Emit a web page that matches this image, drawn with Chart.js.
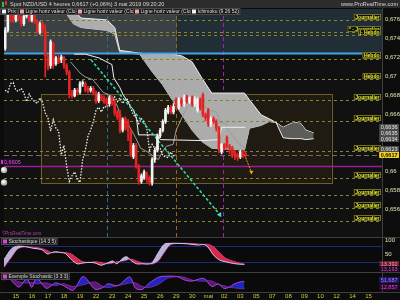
<!DOCTYPE html>
<html>
<head>
<meta charset="utf-8">
<script src="https://cdn.jsdelivr.net/npm/chart.js@4.4.1/dist/chart.umd.min.js"></script>
<style>
  html, body { margin: 0; padding: 0; background: #0c0c0c; }
  #c { display: block; width: 400px; height: 300px; }
</style>
</head>
<body>
<canvas id="c" width="400" height="300"></canvas>
<script>
// axe des dates (un pas = un jour)
const dayLabels = ["15","16","17","18","19","22","23","24","25","26","29","30","mai","02","03","05","07","08","09","10","12","14","15"];
const priceTicks = [0.676, 0.674, 0.672, 0.67, 0.668, 0.666, 0.66, 0.658, 0.656];

// bougies 4 heures NZD/USD
const opens = [
  0.6729,0.6748,0.6765,0.6763,0.6759,0.6765,0.6761,0.6755,0.6763,0.6766,
  0.6759,0.6764,0.6757,0.6746,0.6755,0.6748,0.6721,0.6711,0.6734,0.6713,
  0.6719,0.6717,0.6719,0.6711,0.6704,0.6682,0.6679,0.6685,0.6683,0.6692,
  0.6692,0.6687,0.6685,0.6687,0.6682,0.6674,0.6679,0.6677,0.6675,0.6671,
  0.6677,0.6673,0.6662,0.6660,0.6643,0.6655,0.6652,0.6642,0.6615,0.6627,
  0.6605,0.6589,0.6593,0.6597,0.6593,0.6588,0.6612,0.6622,0.6637,0.6643,
  0.6652,0.6662,0.6667,0.6662,0.6675,0.6667,0.6675,0.6671,0.6678,0.6673,
  0.6677,0.6671,0.6664,0.6675,0.6680,0.6659,0.6664,0.6650,0.6655,0.6652,
  0.6645,0.6620,0.6628,0.6635,0.6626,0.6624,0.6620,0.6617,0.6615,0.6620,
  0.6618];
const highs = [
  0.6751,0.6768,0.6768,0.6765,0.6767,0.6767,0.6763,0.6765,0.6769,0.6768,
  0.6766,0.6766,0.6759,0.6757,0.6757,0.6754,0.6723,0.6738,0.6736,0.6721,
  0.6722,0.6722,0.6721,0.6713,0.6706,0.6685,0.6687,0.6687,0.6694,0.6695,
  0.6694,0.6689,0.6689,0.6689,0.6684,0.6683,0.6681,0.6679,0.6677,0.6679,
  0.6679,0.6675,0.6664,0.6664,0.6656,0.6657,0.6654,0.6644,0.6629,0.6629,
  0.6607,0.6597,0.6601,0.6599,0.6595,0.6614,0.6624,0.6639,0.6645,0.6654,
  0.6666,0.6669,0.6669,0.6671,0.6677,0.6677,0.6677,0.6680,0.6680,0.6678,
  0.6679,0.6678,0.6677,0.6677,0.6682,0.6661,0.6666,0.6657,0.6657,0.6654,
  0.6647,0.6629,0.6629,0.6637,0.6628,0.6626,0.6622,0.6619,0.6622,0.6622,
  0.6620];
const lows = [
  0.6727,0.6746,0.6757,0.6756,0.6757,0.6759,0.6752,0.6753,0.6761,0.6757,
  0.6757,0.6755,0.6744,0.6744,0.6745,0.6699,0.6706,0.6708,0.6708,0.6711,
  0.6713,0.6714,0.6708,0.6701,0.6677,0.6677,0.6678,0.6680,0.6681,0.6689,
  0.6683,0.6682,0.6683,0.6680,0.6671,0.6672,0.6674,0.6671,0.6668,0.6668,
  0.6669,0.6658,0.6654,0.6640,0.6641,0.6643,0.6632,0.6615,0.6613,0.6603,
  0.6586,0.6587,0.6591,0.6588,0.6585,0.6585,0.6609,0.6620,0.6635,0.6641,
  0.6650,0.6660,0.6660,0.6660,0.6665,0.6665,0.6668,0.6668,0.6671,0.6671,
  0.6668,0.6668,0.6662,0.6664,0.6657,0.6653,0.6647,0.6647,0.6650,0.6642,
  0.6619,0.6618,0.6622,0.6624,0.6618,0.6614,0.6612,0.6611,0.6613,0.6614,
  0.6614];
const closes = [
  0.6748,0.6765,0.6761,0.6759,0.6765,0.6761,0.6755,0.6763,0.6766,0.6759,
  0.6764,0.6757,0.6746,0.6755,0.6748,0.6721,0.6709,0.6736,0.6711,0.6719,
  0.6715,0.6720,0.6711,0.6704,0.6680,0.6679,0.6685,0.6683,0.6692,0.6693,
  0.6685,0.6684,0.6687,0.6682,0.6673,0.6681,0.6676,0.6673,0.6671,0.6677,
  0.6672,0.6661,0.6656,0.6642,0.6654,0.6645,0.6642,0.6617,0.6627,0.6605,
  0.6589,0.6595,0.6599,0.6591,0.6588,0.6612,0.6622,0.6637,0.6643,0.6652,
  0.6664,0.6667,0.6662,0.6668,0.6667,0.6675,0.6671,0.6678,0.6673,0.6677,
  0.6671,0.6676,0.6675,0.6666,0.6659,0.6656,0.6650,0.6655,0.6652,0.6645,
  0.6622,0.6628,0.6624,0.6626,0.6624,0.6616,0.6615,0.6614,0.6620,0.6616,
  0.6617];

// Ichimoku (9 26 52)
const cloudX = [3.09,3.58,4.07,5.68,6.17,6.48,7.72,8.52,9.14,9.75,10.37,10.99,11.60,12.22,14.26,14.57,15.31,15.80,16.23,16.67,17.16,17.47,17.78,18.09,18.58];
const spanA  = [0.6770,0.6770,0.6761,0.6759,0.6751,0.6727,0.6724,0.6723,0.6723,0.6723,0.6721,0.6715,0.6698,0.6682,0.6682,0.6675,0.6659,0.6655,0.6651,0.6635,0.6634,0.6634,0.6634,0.6633,0.6634];
const spanB  = [0.6767,0.6755,0.6751,0.6748,0.6744,0.6725,0.6723,0.6704,0.6691,0.6675,0.6659,0.6643,0.6631,0.6624,0.6622,0.6645,0.6648,0.6652,0.6651,0.6646,0.6650,0.6651,0.6650,0.6643,0.6640];
const tenkanX = [3.40,4.01,4.32,4.81,5.43,6.05,6.36,6.54,6.98,7.47,7.78,8.21,8.64,8.89,9.14,9.38,9.81,10.00,10.25,10.49,10.80,11.36,11.67,11.98,12.53,12.72,13.09,13.27,13.58,13.89,14.32];
const tenkan  = [0.6715,0.6703,0.6699,0.6696,0.6683,0.6678,0.6667,0.6656,0.6650,0.6635,0.6624,0.6620,0.6615,0.6612,0.6620,0.6626,0.6628,0.6643,0.6652,0.6661,0.6669,0.6672,0.6669,0.6665,0.6662,0.6651,0.6650,0.6642,0.6636,0.6629,0.6624];
const kijunX = [3.64,4.32,5.19,5.99,6.11,6.48,6.67,7.16,7.35,7.53,7.65,8.83,9.01,11.60,12.65,12.84,14.32];
const kijun  = [0.6723,0.6723,0.6719,0.6712,0.6698,0.6688,0.6681,0.6668,0.6664,0.6655,0.6638,0.6638,0.6633,0.6632,0.6633,0.6646,0.6646];

// lignes horizontales tracées
const levels = [0.6759,0.6746,0.6743,0.6718,0.6697,0.6675,0.6653,0.6621,0.6593,0.6575,0.6561,0.6547];
const levelTags = ["Journalier","* - Journalier","|- Hebdo","Hebdo","Hebdo","Journalier","Journalier","Journalier","Journalier","Journalier","Journalier","Journalier"];
const blueLevel = 0.6724;
const magentaLevel = 0.6605;
const lastPrice = 0.6617;
const ichiTags = [0.6636, 0.6635, 0.6634, 0.6623];
const alertLevels = [0.6601, 0.6588];
const zoneSplitDay = 10.06;
const rangeBoxX = [1.54, 19.69];
const rangeBoxY = [0.6681, 0.6587];
const markerDays = [5.68, 10.0, 12.9];
const trendX = [4.69, 12.72];
const trendY = [0.6717, 0.6554];
const projX = [14.26, 14.69];
const projY = [0.6617, 0.6599];

// Stochastique (14 3 5)
const stochX = [-0.74,-0.25,0.12,0.62,1.11,1.60,1.98,2.22,2.47,2.84,3.09,3.46,3.83,4.20,4.57,4.94,5.31,5.68,6.05,6.30,6.67,6.91,7.16,7.53,7.90,8.27,8.52,8.89,9.26,9.63,10.12,10.74,11.36,11.73,11.98,12.35,12.72,13.09,13.58,14.07,14.26];
const stochK = [30,70,78,76,70,66,50,55,58,55,52,30,15,18,20,18,10,17,25,15,35,40,28,15,15,14,20,55,85,88,88,86,82,84,75,45,28,22,16,13,13.392];
const stochD = [2,40,68,76,74,70,62,55,55,56,55,50,35,22,20,22,20,15,18,22,25,28,32,25,18,16,14,25,55,82,88,88,86,84,85,75,55,35,24,16,13.193];
// Exemple Stochastic (3 3 3)
const stoch2X = [-0.74,-0.43,0.19,0.68,0.99,1.30,1.91,2.47,2.96,3.58,4.20,4.94,5.43,5.74,6.36,7.10,7.47,7.90,8.33,8.95,9.44,10.06,10.56,10.99,11.73,12.22,12.65,12.96,13.27,13.64,14.07,14.26];
const stoch2K = [75,70,22,70,20,72,15,45,30,5,80,10,20,40,30,78,15,10,45,78,82,80,60,55,70,25,40,15,20,40,52,51.687];
const stoch2D = [60,72,50,45,48,40,45,30,40,25,35,50,25,20,30,45,45,25,20,40,70,80,75,60,55,55,35,30,22,18,14,12.857];

const barX = i => (i - 4) / 6;
const isUp = closes.map((c, i) => c >= opens[i]);
const candleColors = isUp.map(u => u ? '#f4f4f4' : '#e42424');
const pts = (xs, ys) => xs.map((x, i) => ({ x, y: ys[i] }));
const chikou = closes.slice(26).map((c, i) => ({ x: barX(i), y: c }));
const fmt = v => String(v).replace('.', ',');

const FONT = "'Liberation Sans', Arial, sans-serif";

function tagBox(ctx, text, xr, yb, fg, bg, border, font) {
  ctx.font = font;
  const w = ctx.measureText(text).width + 3;
  ctx.fillStyle = bg;
  ctx.fillRect(xr - w, yb - 6, w, 6);
  if (border) { ctx.strokeStyle = border; ctx.lineWidth = 1; ctx.strokeRect(xr - w + 0.5, yb - 5.5, w - 1, 5); }
  ctx.fillStyle = fg;
  ctx.textBaseline = 'middle';
  ctx.textAlign = 'left';
  ctx.fillText(text, xr - w + 1.5, yb - 2.8);
}

const decor = {
  id: 'decor',
  beforeDatasetsDraw(chart) {
    const ctx = chart.ctx, ca = chart.chartArea;
    const X = chart.scales.x, Y = chart.scales.y, S1 = chart.scales.ys1, S2 = chart.scales.ys2;
    const px = v => X.getPixelForValue(v), py = v => Y.getPixelForValue(v);
    ctx.save();
    // fonds
    ctx.fillStyle = '#111111';
    ctx.fillRect(ca.left, Y.top, ca.width, Y.bottom - Y.top);
    ctx.fillStyle = '#0a0a0a';
    ctx.fillRect(ca.left, S1.top, ca.width, S2.bottom - S1.top);
    const split = px(zoneSplitDay), yb = py(blueLevel);
    ctx.fillStyle = '#3b4045';
    ctx.fillRect(ca.left, Y.top, split - ca.left, yb - Y.top);
    ctx.fillStyle = '#222e36';
    ctx.fillRect(split, Y.top, ca.right - split, yb - Y.top);
    // rectangle de range
    const bx0 = px(rangeBoxX[0]), bx1 = px(rangeBoxX[1]), by0 = py(rangeBoxY[0]), by1 = py(rangeBoxY[1]);
    ctx.fillStyle = '#1f1a12';
    ctx.fillRect(bx0, by0, bx1 - bx0, by1 - by0);
    ctx.strokeStyle = '#6e5c2c'; ctx.lineWidth = 1;
    ctx.strokeRect(Math.round(bx0) + 0.5, Math.round(by0) + 0.5, Math.round(bx1 - bx0), Math.round(by1 - by0));
    // verticales
    const vCols = ['#2b6a8a', '#9a6818', '#a020b0'];
    ctx.setLineDash([4, 3]);
    markerDays.forEach((d, i) => {
      const x = Math.round(px(d)) + 0.5;
      ctx.strokeStyle = vCols[i];
      ctx.beginPath(); ctx.moveTo(x, Y.top); ctx.lineTo(x, Y.bottom); ctx.stroke();
    });
    ctx.setLineDash([]);
    // stochastique : niveaux 80 / 20
    ctx.strokeStyle = '#1b2a7a';
    [80, 20].forEach(v => {
      const y = Math.round(S1.getPixelForValue(v)) + 0.5;
      ctx.beginPath(); ctx.moveTo(ca.left, y); ctx.lineTo(ca.right, y); ctx.stroke();
    });
    // séparateurs
    ctx.strokeStyle = '#3e3e3e';
    [S1.top, S2.top, S2.bottom].forEach(y0 => {
      const y = Math.round(y0) + 0.5;
      ctx.beginPath(); ctx.moveTo(0, y); ctx.lineTo(400, y); ctx.stroke();
    });
    const xr = Math.round(ca.right) + 0.5;
    ctx.beginPath(); ctx.moveTo(xr, 8); ctx.lineTo(xr, S2.bottom); ctx.stroke();
    ctx.restore();
  },
  afterDatasetDraw(chart, args) {
    if (args.index !== 0) return; // après le nuage
    const ctx = chart.ctx, ca = chart.chartArea, Y = chart.scales.y;
    const py = v => Math.round(Y.getPixelForValue(v)) + 0.5;
    ctx.save();
    ctx.lineWidth = 1;
    ctx.strokeStyle = '#86862a';
    ctx.setLineDash([3, 3]);
    levels.forEach(v => { ctx.beginPath(); ctx.moveTo(ca.left, py(v)); ctx.lineTo(ca.right, py(v)); ctx.stroke(); });
    ctx.strokeStyle = '#7c6272';
    ctx.setLineDash([5, 3]);
    ctx.beginPath(); ctx.moveTo(ca.left, py(lastPrice)); ctx.lineTo(ca.right, py(lastPrice)); ctx.stroke();
    ctx.setLineDash([]);
    ctx.strokeStyle = '#9c1c9c'; ctx.lineWidth = 1.5;
    ctx.beginPath(); ctx.moveTo(ca.left, py(magentaLevel)); ctx.lineTo(ca.right, py(magentaLevel)); ctx.stroke();
    ctx.strokeStyle = '#3aa6ee'; ctx.lineWidth = 2;
    ctx.beginPath(); ctx.moveTo(ca.left, py(blueLevel)); ctx.lineTo(ca.right - 19, py(blueLevel)); ctx.stroke();
    ctx.restore();
  },
  afterDatasetsDraw(chart) {
    const ctx = chart.ctx, ca = chart.chartArea;
    const Y = chart.scales.y, S1 = chart.scales.ys1, S2 = chart.scales.ys2;
    const py = v => Y.getPixelForValue(v);
    const tagFont = 'bold 5px ' + FONT, smallFont = '5.5px ' + FONT;
    ctx.save();
    // étiquettes des lignes
    levels.forEach((v, i) => {
      tagBox(ctx, levelTags[i], ca.right - 1, Math.round(py(v)), '#f2f23c', '#0d0d04', '#707020', tagFont);
    });
    tagBox(ctx, 'Hebdo', ca.right - 1, Math.round(py(blueLevel)) + 5, '#f2f23c', '#0d0d04', '#707020', tagFont);
    // valeurs Ichimoku sur l'axe
    let prev = py(lastPrice);
    ichiTags.slice().sort((a, b) => a - b).forEach(v => {
      const y = Math.min(py(v), prev - 6);
      prev = y;
      tagBox(ctx, fmt(v), 399, Math.round(y) + 3, '#e8e8e8', '#4a4a4a', null, smallFont);
    });
    tagBox(ctx, fmt(lastPrice), 399, Math.round(py(lastPrice)) + 3, '#111111', '#f2d21a', null, 'bold 5.5px ' + FONT);
    // étiquettes stochastiques
    let y1 = S1.getPixelForValue(stochK[stochK.length - 1]);
    tagBox(ctx, fmt(stochK[stochK.length - 1]), 399, Math.round(y1) + 3, '#ff9aa6', '#6a1e2e', null, smallFont);
    tagBox(ctx, fmt(stochD[stochD.length - 1]), 399, Math.round(y1) + 8, '#e040e0', '#1a0a1a', null, smallFont);
    let y2 = S2.getPixelForValue(stoch2K[stoch2K.length - 1]);
    tagBox(ctx, fmt(stoch2K[stoch2K.length - 1]), 399, Math.round(y2) + 1, '#c070ff', '#1a1a6a', null, smallFont);
    tagBox(ctx, fmt(stoch2D[stoch2D.length - 1]), 399, Math.round(y2) + 8, '#e040e0', '#2a0a2a', null, smallFont);
    // repère à gauche
    const ym = Math.round(py(magentaLevel));
    ctx.fillStyle = '#2a0a2a'; ctx.fillRect(0, ym - 7, 15, 6);
    ctx.fillStyle = '#c040c0'; ctx.fillRect(1, ym - 6, 2, 4);
    ctx.font = smallFont; ctx.fillStyle = '#d060d0'; ctx.textBaseline = 'middle'; ctx.textAlign = 'left';
    ctx.fillText('0,6605', 4, ym - 3.8);
    alertLevels.forEach(v => {
      const g = ctx.createRadialGradient(3, py(v) - 1, 0.5, 4, py(v), 3.5);
      g.addColorStop(0, '#ffffff'); g.addColorStop(1, '#9a9a9a');
      ctx.fillStyle = g;
      ctx.beginPath(); ctx.arc(4, py(v), 3.2, 0, Math.PI * 2); ctx.fill();
    });
    // filigrane
    ctx.font = '4.5px ' + FONT; ctx.fillStyle = '#b040b0';
    ctx.fillText('\u00a9ProRealTime.com', 2, Y.bottom - 3);
    // légendes des panneaux
    const legendBox = (x, y, sq, text) => {
      ctx.font = '5px ' + FONT;
      const w = ctx.measureText(text).width + 9;
      ctx.fillStyle = '#1c1c1c'; ctx.fillRect(x, y, w, 7);
      ctx.strokeStyle = '#4a4a4a'; ctx.lineWidth = 1; ctx.strokeRect(x + 0.5, y + 0.5, w - 1, 6);
      ctx.fillStyle = sq; ctx.fillRect(x + 2, y + 1.5, 4, 4);
      ctx.fillStyle = '#dcdcdc'; ctx.textBaseline = 'middle';
      ctx.fillText(text, x + 7.5, y + 3.8);
    };
    legendBox(1, S1.top + 1, '#e040e0', 'Stochastique (14 3 5)');
    legendBox(1, S2.top + 1, '#e040e0', 'Exemple Stochastic (3 3 3)');
    // bandeau titre
    ctx.fillStyle = '#2c2c2c'; ctx.fillRect(0, 0, 400, 8);
    ctx.fillStyle = '#2ec040'; ctx.fillRect(2, 2, 2, 5);
    ctx.fillStyle = '#e03030'; ctx.fillRect(5, 1, 2, 4);
    ctx.font = '5.5px ' + FONT; ctx.fillStyle = '#d8d8d8'; ctx.textBaseline = 'middle';
    ctx.textAlign = 'left';
    ctx.fillText('Spot NZD/USD 4 heures 0,6617 (+0,06%) 3 mai 2019 09:20:20', 10, 4.3);
    ctx.textAlign = 'right';
    ctx.fillText('www.ProRealTime.com', 398, 4.3);
    ctx.textAlign = 'left';
    legendBox(0, 8, '#f0f0f0', 'Prix');
    legendBox(18, 8, '#f4a0a0', 'Ligne horiz valeur (Clo)');
    legendBox(76, 8, '#f4a0a0', 'Ligne horiz valeur (Clo)');
    legendBox(133, 8, '#f4a0a0', 'Ligne horiz valeur (Clo)');
    legendBox(190, 8, '#f0f0f0', 'Ichimoku (9 26 52)');
    ctx.restore();
  }
};

const axisFont = { family: FONT, size: 6 };

new Chart(document.getElementById('c'), {
  type: 'bar',
  data: {
    datasets: [
      { type: 'line', label: 'SSA', data: pts(cloudX, spanA), yAxisID: 'y', borderColor: '#ececec', borderWidth: 1,
        pointRadius: 0, tension: 0, fill: { target: '+1', above: 'rgba(178,178,178,0.96)', below: 'rgba(96,96,96,0.95)' }, order: 20 },
      { type: 'line', label: 'SSB', data: pts(cloudX, spanB), yAxisID: 'y', borderColor: '#ececec', borderWidth: 1,
        pointRadius: 0, tension: 0, fill: false, order: 21 },
      { type: 'line', label: 'Tenkan', data: pts(tenkanX, tenkan), yAxisID: 'y', borderColor: '#9a9a9a', borderWidth: 1,
        pointRadius: 0, fill: false, order: 10 },
      { type: 'line', label: 'Kijun', data: pts(kijunX, kijun), yAxisID: 'y', borderColor: '#f0f0f0', borderWidth: 1,
        pointRadius: 0, fill: false, order: 9 },
      { type: 'line', label: 'Chikou', data: chikou, yAxisID: 'y', borderColor: '#f0f0f0', borderWidth: 1.3,
        borderDash: [1.5, 1.5], pointRadius: 0, fill: false, order: 8 },
      { type: 'line', label: 'Tendance', data: pts(trendX, trendY), yAxisID: 'y', borderColor: '#33e0b0', borderWidth: 1.5,
        borderDash: [3, 2], pointRadius: [0, 3], pointStyle: 'triangle', pointRotation: 150,
        pointBackgroundColor: '#33e0b0', pointBorderWidth: 0, fill: false, order: 5 },
      { type: 'line', label: 'Projection', data: pts(projX, projY), yAxisID: 'y', borderColor: '#f0a020', borderWidth: 1,
        borderDash: [2, 1], pointRadius: [0, 2.5], pointStyle: 'triangle', pointRotation: 180,
        pointBackgroundColor: '#f0a020', pointBorderWidth: 0, fill: false, order: 4 },
      { type: 'bar', label: 'Mèches', data: highs.map((h, i) => ({ x: barX(i), y: [lows[i], h] })), yAxisID: 'y',
        backgroundColor: candleColors, barThickness: 1, grouped: false, order: 1 },
      { type: 'bar', label: 'Corps', data: opens.map((o, i) => ({ x: barX(i), y: [o, closes[i]] })), yAxisID: 'y',
        backgroundColor: candleColors, barThickness: 2, minBarLength: 1, grouped: false, order: 0 },
      { type: 'line', label: '%K', data: pts(stochX, stochK), yAxisID: 'ys1', borderColor: '#d8c8f0', borderWidth: 1,
        pointRadius: 0, tension: 0.3, fill: { target: '+1', above: 'rgba(196,186,226,0.95)', below: 'rgba(226,44,76,0.95)' }, order: 2 },
      { type: 'line', label: '%D', data: pts(stochX, stochD), yAxisID: 'ys1', borderColor: '#b02a8a', borderWidth: 1,
        pointRadius: 0, tension: 0.3, fill: false, order: 3 },
      { type: 'line', label: 'K2', data: pts(stoch2X, stoch2K), yAxisID: 'ys2', borderColor: '#b040e0', borderWidth: 1,
        pointRadius: 0, tension: 0.3, fill: { target: '+1', above: 'rgba(34,40,210,0.9)', below: 'rgba(110,30,140,0.8)' }, order: 2 },
      { type: 'line', label: 'D2', data: pts(stoch2X, stoch2D), yAxisID: 'ys2', borderColor: '#8a30a8', borderWidth: 1,
        pointRadius: 0, tension: 0.3, fill: false, order: 3 }
    ]
  },
  options: {
    responsive: false,
    animation: false,
    events: [],
    layout: { padding: { top: 9, left: 0, right: 0, bottom: 0 } },
    plugins: { legend: { display: false }, tooltip: { enabled: false } },
    scales: {
      x: {
        type: 'linear', min: -0.7407, max: 22.84, offset: false,
        grid: { display: false, drawTicks: false }, border: { display: false },
        afterBuildTicks: s => { s.ticks = dayLabels.map((_, i) => ({ value: i })); },
        afterFit: s => { s.height = 8; },
        ticks: { color: '#cccc3c', font: axisFont, padding: 1, maxRotation: 0, autoSkip: false,
                 callback: v => dayLabels[v] }
      },
      y: {
        position: 'right', stack: 'panels', stackWeight: 228, min: 0.65305, max: 0.67705,
        grid: { display: false, drawTicks: false }, border: { display: false },
        afterBuildTicks: s => { s.ticks = priceTicks.map(v => ({ value: v })); },
        afterFit: s => { s.width = 18; },
        ticks: { color: '#e6e6b0', font: axisFont, padding: 3, callback: v => fmt(v) }
      },
      ys1: {
        position: 'right', stack: 'panels', stackWeight: 35, min: -14.3, max: 110.7,
        grid: { display: false, drawTicks: false }, border: { display: false },
        afterBuildTicks: s => { s.ticks = [{ value: 100 }, { value: 50 }]; },
        afterFit: s => { s.width = 18; },
        ticks: { color: '#e6e6b0', font: axisFont, padding: 3 }
      },
      ys2: {
        position: 'right', stack: 'panels', stackWeight: 20, min: -5, max: 105,
        grid: { display: false, drawTicks: false }, border: { display: false },
        afterBuildTicks: s => { s.ticks = []; },
        afterFit: s => { s.width = 18; },
        ticks: { display: false }
      }
    }
  },
  plugins: [decor]
});
</script>
</body>
</html>
